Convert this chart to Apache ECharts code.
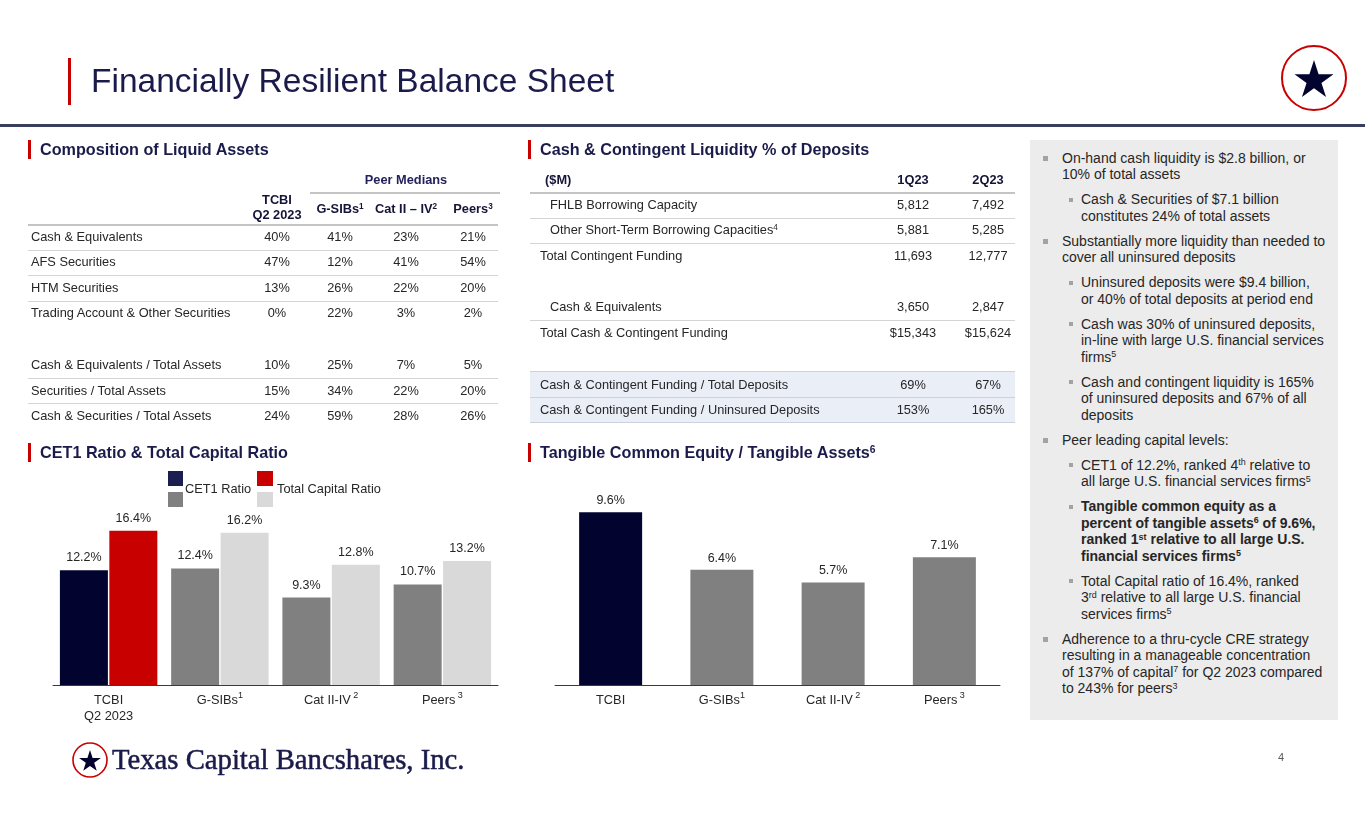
<!DOCTYPE html>
<html><head><meta charset="utf-8">
<script src="https://cdn.jsdelivr.net/npm/echarts@6/dist/echarts.min.js"></script>
<style>
html,body{margin:0;padding:0;background:#fff;}
body{width:1365px;height:829px;position:relative;overflow:hidden;font-family:"Liberation Sans",Arial,sans-serif;color:#262626;}
#chart{position:absolute;left:0;top:0;width:1365px;height:829px;}
.t{position:absolute;white-space:nowrap;}
.r{position:absolute;}
sup{font-size:0.64em;vertical-align:0;position:relative;top:-0.5em;line-height:0;}
#panel{position:absolute;left:1030px;top:140px;width:308px;height:580px;background:#ececec;padding-top:1.25px;box-sizing:border-box;font-size:14px;line-height:16.5px;color:#262626;}
.l1,.l2{position:relative;margin-top:8.5px;white-space:nowrap;}
.l1{padding-left:32px;}
.l2{padding-left:51px;}
.l1::before{content:'';position:absolute;left:13px;top:6px;width:5px;height:5px;background:#a3a3a3;}
.l2::before{content:'';position:absolute;left:39px;top:6.5px;width:4px;height:4px;background:#a3a3a3;}
</style></head><body>
<div id="chart"></div>
<div id="panel">
<div class="l1">On-hand cash liquidity is $2.8 billion, or<br>10% of total assets</div>
<div class="l2">Cash &amp; Securities of $7.1 billion<br>constitutes 24% of total assets</div>
<div class="l1">Substantially more liquidity than needed to<br>cover all uninsured deposits</div>
<div class="l2">Uninsured deposits were $9.4 billion,<br>or 40% of total deposits at period end</div>
<div class="l2">Cash was 30% of uninsured deposits,<br>in-line with large U.S. financial services<br>firms<sup>5</sup></div>
<div class="l2">Cash and contingent liquidity is 165%<br>of uninsured deposits and 67% of all<br>deposits</div>
<div class="l1">Peer leading capital levels:</div>
<div class="l2">CET1 of 12.2%, ranked 4<sup>th</sup> relative to<br>all large U.S. financial services firms<sup>5</sup></div>
<div class="l2"><b>Tangible common equity as a<br>percent of tangible assets<sup>6</sup> of 9.6%,<br>ranked 1<sup>st</sup> relative to all large U.S.<br>financial services firms<sup>5</sup></b></div>
<div class="l2">Total Capital ratio of 16.4%, ranked<br>3<sup>rd</sup> relative to all large U.S. financial<br>services firms<sup>5</sup></div>
<div class="l1">Adherence to a thru-cycle CRE strategy<br>resulting in a manageable concentration<br>of 137% of capital<sup>7</sup> for Q2 2023 compared<br>to 243% for peers<sup>3</sup></div>
</div>
<script>
// ---------------- DATA ----------------
const capitalCategories = ['TCBI\nQ2 2023', 'G-SIBs', 'Cat II-IV', 'Peers'];
const capitalFootnotes = ['', '1', ' 2', ' 3'];
const capitalSeriesNames = ['CET1 Ratio', 'Total Capital Ratio'];
const cet1Ratio = [12.2, 12.4, 9.3, 10.7];
const totalCapitalRatio = [16.4, 16.2, 12.8, 13.2];

const tceCategories = ['TCBI', 'G-SIBs', 'Cat II-IV', 'Peers'];
const tceFootnotes = ['', '1', ' 2', ' 3'];
const tceRatio = [9.6, 6.4, 5.7, 7.1];

const liquidHeaders = ['TCBI', 'Q2 2023', 'G-SIBs', 'Cat II – IV', 'Peers'];
const liquidHeaderNotes = ['', '', '1', '2', '3'];
const liquidRows = ['Cash & Equivalents', 'AFS Securities', 'HTM Securities', 'Trading Account & Other Securities',
  'Cash & Equivalents / Total Assets', 'Securities / Total Assets', 'Cash & Securities / Total Assets'];
const liquidTCBI = ['40%', '47%', '13%', '0%', '10%', '15%', '24%'];
const liquidGSIBs = ['41%', '12%', '26%', '22%', '25%', '34%', '59%'];
const liquidCatII = ['23%', '41%', '22%', '3%', '7%', '22%', '28%'];
const liquidPeers = ['21%', '54%', '20%', '2%', '5%', '20%', '26%'];

const fundingHeaders = ['($M)', '1Q23', '2Q23'];
const fundingRows = ['FHLB Borrowing Capacity', 'Other Short-Term Borrowing Capacities', 'Total Contingent Funding',
  'Cash & Equivalents', 'Total Cash & Contingent Funding',
  'Cash & Contingent Funding / Total Deposits', 'Cash & Contingent Funding / Uninsured Deposits'];
const fundingRowNotes = ['', '4', '', '', '', '', ''];
const funding1Q23 = ['5,812', '5,881', '11,693', '3,650', '$15,343', '69%', '153%'];
const funding2Q23 = ['7,492', '5,285', '12,777', '2,847', '$15,624', '67%', '165%'];

// ---------------- LAYOUT / STYLE ----------------
const FONT = '"Liberation Sans", Arial, sans-serif';
const NAVY = '#03032f';
const NAVY_TXT = '#1b1b4b';
const RED = '#c80000';
const GRAY = '#808080';
const LGRAY = '#d9d9d9';
const TXT = '#262626';

function esc(s){return s.replace(/&/g,'&amp;');}
function addText(x, y, html, o) {
  o = o || {};
  const d = document.createElement('div');
  d.className = 't';
  d.innerHTML = html;
  const lh = o.lh || 18;
  d.style.top = (y - lh / 2) + 'px';
  d.style.lineHeight = lh + 'px';
  d.style.fontSize = (o.fs || 12.8) + 'px';
  if (o.bold) d.style.fontWeight = 'bold';
  d.style.color = o.color || TXT;
  if (o.family) d.style.fontFamily = o.family;
  if (o.stroke) d.style.webkitTextStroke = o.stroke;
  if (o.align === 'center') { d.style.left = (x - 150) + 'px'; d.style.width = '300px'; d.style.textAlign = 'center'; }
  else d.style.left = x + 'px';
  document.body.appendChild(d);
  return d;
}
function addRect(x, y, w, h, c) {
  const d = document.createElement('div');
  d.className = 'r';
  d.style.left = x + 'px'; d.style.top = y + 'px'; d.style.width = w + 'px'; d.style.height = h + 'px';
  d.style.background = c;
  document.body.appendChild(d);
}

// Title
addRect(68, 58, 3, 47, RED);
addText(91, 81, 'Financially Resilient Balance Sheet', {fs: 33.5, lh: 40, color: NAVY_TXT});
addRect(0, 124, 1365, 2.5, '#3b3d5e');

// Section headings
const headings = [
  [40, 149, 'Composition of Liquid Assets'],
  [540, 149, 'Cash &amp; Contingent Liquidity % of Deposits'],
  [40, 452, 'CET1 Ratio &amp; Total Capital Ratio'],
  [540, 452, 'Tangible Common Equity / Tangible Assets<sup>6</sup>']
];
headings.forEach(h => {
  addRect(h[0] - 12, h[1] - 9, 2.5, 19, RED);
  addText(h[0], h[1], h[2], {fs: 16.2, bold: true, color: NAVY_TXT});
});

// Left table: composition of liquid assets
const liqColX = [277, 340, 406, 473];
const liqRowY = [237, 262, 288, 313, 365, 390.5, 416];
addText(406, 180, 'Peer Medians', {bold: true, align: 'center', color: '#22225c', fs: 12.8});
addRect(310, 192, 190, 1.5, '#c4c4c4');
addText(liqColX[0], 200, liquidHeaders[0], {bold: true, align: 'center', color: '#141438'});
addText(liqColX[0], 215, liquidHeaders[1], {bold: true, align: 'center', color: '#141438'});
for (let c = 1; c < 4; c++) {
  addText(liqColX[c], 209, esc(liquidHeaders[c + 1]) + '<sup>' + liquidHeaderNotes[c + 1] + '</sup>', {bold: true, align: 'center', color: '#141438'});
}
addRect(28, 224, 470, 1.5, '#c4c4c4');
[249.5, 275, 300.5, 377.5, 403].forEach(y => addRect(28, y, 470, 1, '#d4d4d4'));
const liqCols = [liquidTCBI, liquidGSIBs, liquidCatII, liquidPeers];
liquidRows.forEach((name, i) => {
  addText(31, liqRowY[i], esc(name));
  liqCols.forEach((col, c) => addText(liqColX[c], liqRowY[i], col[i], {align: 'center'}));
});

// Right table: cash & contingent liquidity
const fColX = [913, 988];
const fRowY = [205, 230, 256, 307, 333, 385, 410];
const fIndent = [550, 550, 540, 550, 540, 540, 540];
addText(545, 180, fundingHeaders[0], {bold: true, color: '#141438'});
addText(fColX[0], 180, fundingHeaders[1], {bold: true, align: 'center', color: '#141438'});
addText(fColX[1], 180, fundingHeaders[2], {bold: true, align: 'center', color: '#141438'});
addRect(530, 192, 485, 1.5, '#c4c4c4');
[217.5, 243, 320].forEach(y => addRect(530, y, 485, 1, '#d4d4d4'));
addRect(530, 371, 485, 51, '#e9eef7');
[371, 397, 422].forEach(y => addRect(530, y, 485, 1, '#cdd3de'));
fundingRows.forEach((name, i) => {
  addText(fIndent[i], fRowY[i], esc(name) + (fundingRowNotes[i] ? '<sup>' + fundingRowNotes[i] + '</sup>' : ''));
  addText(fColX[0], fRowY[i], funding1Q23[i], {align: 'center'});
  addText(fColX[1], fRowY[i], funding2Q23[i], {align: 'center'});
});

// Footer
addText(112, 759, 'Texas Capital Bancshares, Inc.', {fs: 28.7, lh: 34, color: NAVY_TXT, stroke: '0.5px ' + NAVY_TXT, family: '"Liberation Serif", "Times New Roman", serif'});
addText(1278, 757, '4', {fs: 11, color: '#595959'});

// ---------------- CHART ----------------
function starPoints(cx, cy, R) {
  const pts = [];
  for (let k = 0; k < 10; k++) {
    const a = (-90 + k * 36) * Math.PI / 180;
    const rad = k % 2 ? R * 0.382 : R;
    pts.push([cx + rad * Math.cos(a), cy + rad * Math.sin(a)]);
  }
  return pts;
}

const chart = echarts.init(document.getElementById('chart'));
const labelRich = {
  n: {fontSize: 12.8, lineHeight: 16, color: TXT, fontFamily: FONT},
  sup: {fontSize: 9, lineHeight: 8, padding: [0, 0, 8, 0], color: TXT, fontFamily: FONT}
};
function catFormatter(notes) {
  return function (v, i) {
    const lines = v.split('\n').map(s => '{n|' + s + '}');
    if (notes[i]) lines[0] += '{sup|' + notes[i] + '}';
    return lines.join('\n');
  };
}
const valueLabel = {
  show: true, position: 'top', distance: 6, color: TXT, fontSize: 12.5, fontFamily: FONT,
  formatter: p => p.value.toFixed(1) + '%'
};
const cet1Colors = [NAVY, GRAY, GRAY, GRAY];
const totalColors = [RED, LGRAY, LGRAY, LGRAY];
const tceColors = [NAVY, GRAY, GRAY, GRAY];

const option = {
  animation: false,
  backgroundColor: '#ffffff',
  textStyle: {fontFamily: FONT},
  grid: [
    {left: 53, width: 445, top: 497, height: 188},
    {left: 555, width: 445, top: 505, height: 180}
  ],
  xAxis: [
    {gridIndex: 0, type: 'category', data: capitalCategories,
      axisLine: {lineStyle: {color: '#3a3a3a', width: 1}}, axisTick: {show: false},
      axisLabel: {interval: 0, hideOverlap: false, margin: 7, formatter: catFormatter(capitalFootnotes), rich: labelRich}},
    {gridIndex: 1, type: 'category', data: tceCategories,
      axisLine: {lineStyle: {color: '#3a3a3a', width: 1}}, axisTick: {show: false},
      axisLabel: {interval: 0, hideOverlap: false, margin: 7, formatter: catFormatter(tceFootnotes), rich: labelRich}}
  ],
  yAxis: [
    {gridIndex: 0, type: 'value', min: 0, max: 20, show: false, splitLine: {show: false}},
    {gridIndex: 1, type: 'value', min: 0, max: 10, show: false, splitLine: {show: false}}
  ],
  series: [
    {name: capitalSeriesNames[0], type: 'bar', xAxisIndex: 0, yAxisIndex: 0, barWidth: 48, barGap: '3%',
      data: cet1Ratio.map((v, i) => ({value: v, itemStyle: {color: cet1Colors[i]}})), label: valueLabel},
    {name: capitalSeriesNames[1], type: 'bar', xAxisIndex: 0, yAxisIndex: 0, barWidth: 48, barGap: '3%',
      data: totalCapitalRatio.map((v, i) => ({value: v, itemStyle: {color: totalColors[i]}})), label: valueLabel},
    {name: 'TCE / TA', type: 'bar', xAxisIndex: 1, yAxisIndex: 1, barWidth: 63,
      data: tceRatio.map((v, i) => ({value: v, itemStyle: {color: tceColors[i]}})), label: Object.assign({}, valueLabel, {distance: 5})}
  ],
  graphic: [
    // custom legend
    {type: 'rect', shape: {x: 168, y: 471, width: 15, height: 15}, style: {fill: '#1b1f4f'}},
    {type: 'rect', shape: {x: 168, y: 492, width: 15, height: 15}, style: {fill: GRAY}},
    {type: 'text', x: 185, y: 489, style: {text: capitalSeriesNames[0], fill: TXT, font: '12.8px ' + FONT, verticalAlign: 'middle', textVerticalAlign: 'middle'}},
    {type: 'rect', shape: {x: 257, y: 471, width: 16, height: 15}, style: {fill: RED}},
    {type: 'rect', shape: {x: 257, y: 492, width: 16, height: 15}, style: {fill: LGRAY}},
    {type: 'text', x: 277, y: 489, style: {text: capitalSeriesNames[1], fill: TXT, font: '12.8px ' + FONT, verticalAlign: 'middle', textVerticalAlign: 'middle'}},
    // top-right logo
    {type: 'circle', shape: {cx: 1314, cy: 78, r: 32}, style: {fill: 'none', stroke: RED, lineWidth: 2}},
    {type: 'polygon', shape: {points: starPoints(1314, 80.5, 20.5)}, style: {fill: NAVY}},
    // footer logo
    {type: 'circle', shape: {cx: 90, cy: 760, r: 17}, style: {fill: 'none', stroke: RED, lineWidth: 1.6}},
    {type: 'polygon', shape: {points: starPoints(90, 761.5, 11.5)}, style: {fill: NAVY}}
  ]
};
chart.setOption(option);
</script>
</body></html>
